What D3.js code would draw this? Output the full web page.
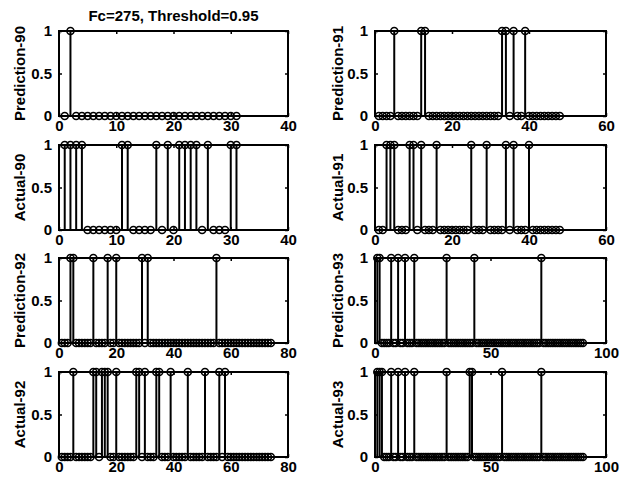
<!DOCTYPE html>
<html>
<head>
<meta charset="utf-8">
<script src="https://cdn.jsdelivr.net/npm/d3@7"></script>
<style>
  body { margin: 0; background: #fff; }
  text { font-family: "Liberation Sans", Arial, sans-serif; font-weight: bold; fill: #000; }
</style>
</head>
<body>
<div id="chart"></div>
<script>
// data (sample index starts at 1)
const pred90 = [0,1,0,0,0,0,0,0,0,0, 0,0,0,0,0,0,0,0,0,0, 0,0,0,0,0,0,0,0,0,0, 0]
const act90  = [1,1,1,1,0,0,0,0,0,0, 1,1,0,0,0,0,1,0,1,0, 1,1,1,1,0,1,0,0,0,1, 1]
const pred91 = [0,0,0,0,1,0,0,0,0,0, 0,1,1,0,0,0,0,0,0,0, 0,0,0,0,0,0,0,0,0,0,
                0,0,1,1,0,1,0,0,1,0, 0,0,0,0,0,0,0,0]
const act91  = [0,0,1,1,1,0,0,0,1,1, 0,1,0,0,0,1,0,0,0,0, 0,0,0,0,1,0,0,0,1,0,
                0,0,0,1,0,1,0,0,0,1, 0,0,0,0,0,0,0,0]
const pred92 = [0,0,0,1,1,0,0,0,0,0, 0,1,0,0,0,0,1,0,0,1, 0,0,0,0,0,0,0,0,1,0,
                1,0,0,0,0,0,0,0,0,0, 0,0,0,0,0,0,0,0,0,0, 0,0,0,0,1,0,0,0,0,0,
                0,0,0,0,0,0,0,0,0,0, 0,0,0,0]
const act92  = [0,0,0,0,1,0,0,0,0,0, 0,1,1,0,1,1,1,0,0,1, 0,0,0,0,0,0,1,1,0,1,
                0,0,0,1,1,0,0,0,1,0, 0,0,0,0,1,0,0,0,0,0, 1,0,0,0,0,1,0,1,0,0,
                0,0,0,0,0,0,0,0,0,0, 0,0,0,0]
const pred93 = [1,1,0,0,0,0,1,0,0,1, 0,0,1,0,0,0,1,0,0,0, 0,0,0,0,0,0,0,0,0,0,
                1,0,0,0,0,0,0,0,0,0, 0,0,1,0,0,0,0,0,0,0, 0,0,0,0,0,0,0,0,0,0,
                0,0,0,0,0,0,0,0,0,0, 0,1,0,0,0,0,0,0,0,0, 0,0,0,0,0,0,0,0,0,0]
const act93  = [1,1,1,0,0,0,1,0,0,1, 0,0,1,0,0,0,1,0,0,0, 0,0,0,0,0,0,0,0,0,0,
                1,0,0,0,0,0,0,0,0,0, 1,1,0,0,0,0,0,0,0,0, 0,0,0,0,1,0,0,0,0,0,
                0,0,0,0,0,0,0,0,0,0, 0,1,0,0,0,0,0,0,0,0, 0,0,0,0,0,0,0,0,0,0]

const panelLabels = ['Prediction-90', 'Prediction-91', 'Actual-90', 'Actual-91',
                     'Prediction-92', 'Prediction-93', 'Actual-92', 'Actual-93']
const panelSeries = [pred90, pred91, act90, act91, pred92, pred93, act92, act93]
const panelXMax = [40, 60, 40, 60, 80, 100, 80, 100]
const panelXTicks = [
  [0, 10, 20, 30, 40], [0, 20, 40, 60], [0, 10, 20, 30, 40], [0, 20, 40, 60],
  [0, 20, 40, 60, 80], [0, 50, 100], [0, 20, 40, 60, 80], [0, 50, 100]
]
const yTicks = [0, 0.5, 1]
const title = 'Fc=275, Threshold=0.95'

// layout
const svgWidth = 620
const svgHeight = 482
const cols = [{ left: 59, width: 229 }, { left: 375, width: 231 }]
const rowTops = [31, 145, 258, 372]
const plotHeight = 85
const fontSize = 15

const svg = d3.select('#chart').append('svg').attr('width', svgWidth).attr('height', svgHeight)

panelSeries.forEach(function (series, i) {
  const col = cols[i % 2]
  const top = rowTops[Math.floor(i / 2)]
  const w = col.width
  const h = plotHeight

  const g = svg.append('g').attr('transform', `translate(${col.left}, ${top})`)

  const x = d3.scaleLinear().domain([0, panelXMax[i]]).range([0, w])
  const y = d3.scaleLinear().domain([0, 1]).range([h, 0])

  // axes with inward ticks, matlab style
  const bottomAxis = d3.axisBottom(x).tickValues(panelXTicks[i]).tickSizeInner(-3).tickSizeOuter(0).tickPadding(4)
  const leftAxis = d3.axisLeft(y).tickValues(yTicks).tickFormat(d3.format('~g')).tickSizeInner(-3).tickSizeOuter(0).tickPadding(7)
  const topAxis = d3.axisTop(x).tickValues(panelXTicks[i]).tickSizeInner(-3).tickSizeOuter(0).tickFormat('')
  const rightAxis = d3.axisRight(y).tickValues(yTicks).tickSizeInner(-3).tickSizeOuter(0).tickFormat('')

  const axes = [
    g.append('g').attr('transform', `translate(0, ${h})`).call(bottomAxis),
    g.append('g').call(leftAxis),
    g.append('g').call(topAxis),
    g.append('g').attr('transform', `translate(${w}, 0)`).call(rightAxis)
  ]
  axes.forEach(function (a) {
    a.select('.domain').remove()
    a.selectAll('line').attr('stroke', '#000').attr('stroke-width', 1.5)
    a.selectAll('text').attr('font-size', fontSize).attr('font-family', null)
  })

  // box
  g.append('rect').attr('width', w).attr('height', h)
    .attr('fill', 'none').attr('stroke', '#000').attr('stroke-width', 2)

  const pts = series.map((v, k) => ({ idx: k + 1, val: v }))

  // stems
  g.selectAll('line.stem').data(pts.filter(d => d.val > 0)).enter().append('line')
    .attr('class', 'stem')
    .attr('x1', d => x(d.idx)).attr('x2', d => x(d.idx))
    .attr('y1', y(0)).attr('y2', d => y(d.val))
    .attr('stroke', '#000').attr('stroke-width', 2)

  // markers
  g.selectAll('circle').data(pts).enter().append('circle')
    .attr('cx', d => x(d.idx)).attr('cy', d => y(d.val))
    .attr('r', 3.5).attr('fill', 'none').attr('stroke', '#000').attr('stroke-width', 1.6)

  // y label
  g.append('text')
    .attr('transform', `translate(${i % 2 === 0 ? -39 : -37}, ${h / 2}) rotate(-90)`)
    .attr('text-anchor', 'middle').attr('dy', '0.35em')
    .attr('font-size', fontSize)
    .text(panelLabels[i])

  if (i === 0) {
    g.append('text').attr('x', w / 2).attr('y', -10)
      .attr('text-anchor', 'middle').attr('font-size', fontSize)
      .text(title)
  }
})
</script>
</body>
</html>
